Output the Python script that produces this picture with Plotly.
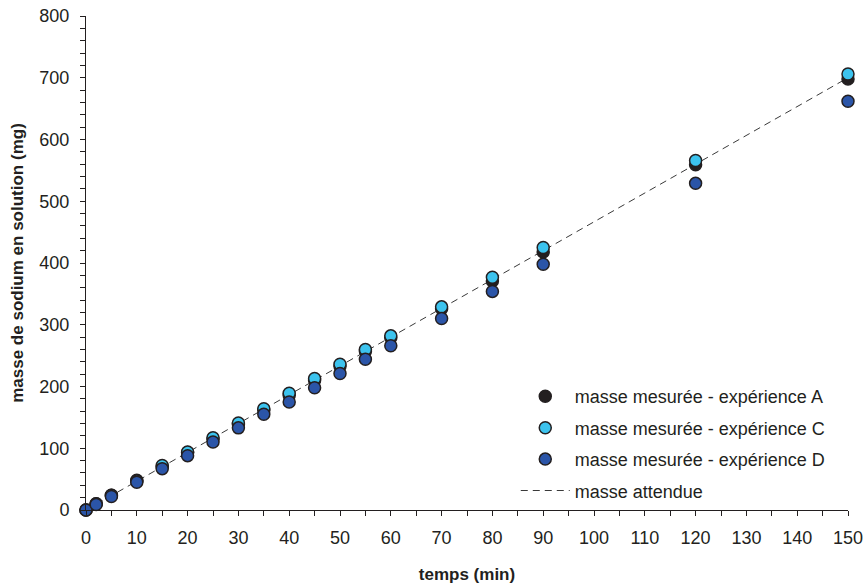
import plotly.graph_objects as go

temps = [0, 2, 5, 10, 15, 20, 25, 30, 35, 40, 45, 50, 55, 60, 70, 80, 90, 120, 150]
masse_A = [0, 10, 24, 48, 70, 93, 115, 139, 162, 186, 210, 233, 257, 279, 326, 371, 418, 559, 698]
masse_C = [0, 10, 24, 47, 72, 94, 117, 141, 164, 189, 213, 236, 260, 282, 329, 377, 425, 566, 706]
masse_D = [0, 9, 22, 45, 67, 88, 110, 133, 155, 175, 198, 221, 244, 266, 310, 354, 398, 529, 662]
attendue_t = [0, 150]
attendue_m = [0, 700]

x_ticks = list(range(0, 151, 10))
y_ticks = list(range(0, 801, 100))

font = "Liberation Sans, Arial, sans-serif"
ink = "#231f20"

fig = go.Figure()
fig.add_trace(go.Scatter(
    x=attendue_t, y=attendue_m, mode="lines", name="masse attendue",
    line=dict(color="#3a3a3a", width=1, dash="7px,5px"), legendrank=4,
    legendgroup="g4",
))
for name, vals, col, rank in [
    ("masse mesurée - expérience A", masse_A, "#231f20", 1),
    ("masse mesurée - expérience C", masse_C, "#3cc3ee", 2),
    ("masse mesurée - expérience D", masse_D, "#2b55a8", 3),
]:
    fig.add_trace(go.Scatter(
        x=temps, y=vals, mode="markers", name=name, legendrank=rank,
        legendgroup="g%d" % rank,
        marker=dict(color=col, size=12, line=dict(color="#231f20", width=1.5)),
    ))

axis_common = dict(
    showgrid=False, zeroline=False, showline=True, linecolor=ink, linewidth=1,
    ticks="outside", ticklen=5, tickcolor=ink, tickwidth=1, automargin=False,
    tickfont=dict(family=font, size=18, color=ink),
)
fig.update_xaxes(
    range=[0, 150], tickvals=x_ticks, ticklabelstandoff=6,
    minor=dict(dtick=5, ticks="outside", ticklen=5, tickcolor=ink),
    title=dict(text="<b>temps (min)</b>", font=dict(family=font, size=17, color=ink), standoff=21),
    **axis_common,
)
fig.update_yaxes(
    range=[0, 800], tickvals=y_ticks, ticklabelstandoff=7,
    minor=dict(dtick=20, ticks="outside", ticklen=5, tickcolor=ink),
    title=dict(text="<b>masse de sodium en solution (mg)</b>", font=dict(family=font, size=17, color=ink), standoff=11),
    **axis_common,
)
fig.update_layout(
    width=866, height=588,
    margin=dict(l=86, r=18, t=16, b=78),
    plot_bgcolor="white", paper_bgcolor="white",
    font=dict(family=font, color=ink),
    legend=dict(
        x=0.564, y=0.267, xanchor="left", yanchor="top",
        font=dict(family=font, size=18, color=ink),
        bgcolor="rgba(0,0,0,0)", tracegroupgap=5, itemwidth=49,
    ),
)
for tr in fig.data:
    tr.cliponaxis = False

fig.write_html(
    "out.html",
    config={"displayModeBar": False},
    post_script="document.body.style.margin='0';document.body.style.overflow='hidden';",
)
